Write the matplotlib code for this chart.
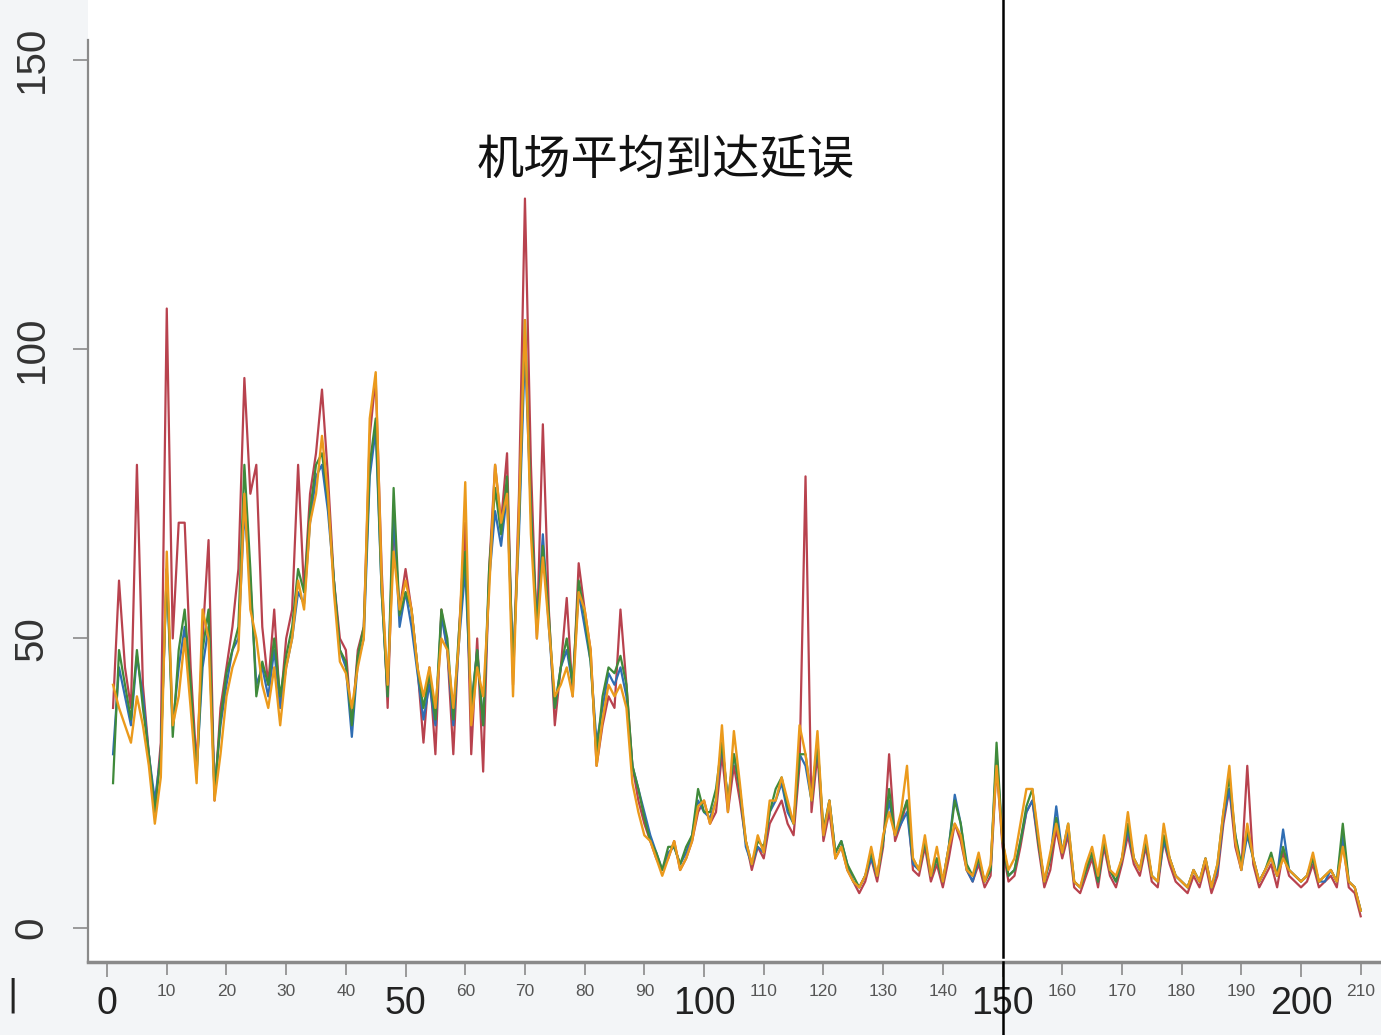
# Средняя задержка прибытия по аэропорту: 4 ряда по дням, отсечка на 150-й день.
import matplotlib
matplotlib.use("Agg")
import matplotlib.pyplot as plt
from matplotlib.ticker import FixedLocator

OUT_PNG = "out.png"

TITLE = "机场平均到达延误"
CUT_DAY = 150

days = list(range(1, 211))

red_vals = [
    38, 60, 45, 38, 80, 42, 30, 20, 32, 107,
    50, 70, 70, 45, 28, 50, 67, 22, 38, 45,
    52, 62, 95, 75, 80, 52, 42, 55, 38, 50,
    55, 80, 58, 75, 82, 93, 78, 60, 50, 48,
    35, 48, 52, 85, 95, 62, 38, 70, 55, 62,
    55, 45, 32, 45, 30, 55, 48, 30, 52, 70,
    30, 50, 27, 62, 80, 70, 82, 42, 75, 126,
    80, 50, 87, 55, 35, 45, 57, 40, 63, 55,
    48, 28, 35, 40, 38, 55, 42, 28, 22, 18,
    15, 12, 10, 12, 15, 10, 12, 15, 20, 22,
    18, 20, 30, 20, 28, 22, 15, 10, 14, 12,
    18, 20, 22, 18, 16, 28, 78, 20, 30, 15,
    20, 12, 14, 10, 8, 6, 8, 12, 8, 14,
    30, 15, 18, 22, 10, 9, 14, 8, 11, 7,
    12, 18, 15, 10, 8, 11, 7, 9, 28, 14,
    8, 9, 14, 20, 22, 14, 7, 10, 17, 12,
    16, 7, 6, 9, 12, 7, 14, 9, 7, 11,
    16, 11, 9, 14, 8, 7, 15, 11, 8, 7,
    6, 9, 7, 11, 6, 9, 18, 24, 14, 10,
    28, 11, 7, 9, 11, 7, 13, 9, 8, 7,
    8, 11, 7, 8, 9, 7, 15, 7, 6, 2,
]

blue_vals = [
    30, 45, 40, 35, 47, 40, 30, 22, 30, 62,
    35, 45, 52, 40, 27, 45, 52, 24, 35, 42,
    48, 50, 72, 60, 42, 45, 40, 48, 38, 45,
    50, 58, 56, 70, 78, 80, 72, 60, 48, 45,
    33, 46, 50, 78, 86, 58, 40, 72, 52, 58,
    52, 44, 36, 42, 35, 54, 48, 35, 50, 62,
    38, 48, 35, 60, 72, 66, 75, 45, 68, 100,
    72, 52, 68, 52, 38, 45, 48, 42, 58, 52,
    46, 32, 38, 44, 42, 45, 40, 28, 24, 20,
    16, 13, 10, 13, 14, 11, 13, 16, 22, 20,
    19, 22, 32, 22, 30, 24, 14, 11, 14, 13,
    20, 22, 25, 20, 18, 30, 28, 22, 32, 16,
    22, 13, 15, 11, 8, 7, 9, 12, 9, 15,
    22, 16, 18, 20, 11, 10, 15, 9, 12, 8,
    14, 23, 18, 10, 8, 12, 8, 10, 30, 15,
    9, 10, 15, 20, 22, 15, 8, 12, 21, 13,
    17, 8, 7, 10, 13, 8, 15, 10, 8, 12,
    17, 12, 10, 15, 9, 8, 15, 12, 9, 8,
    7, 10, 8, 12, 7, 10, 19, 24, 16, 10,
    16, 12, 8, 10, 12, 9, 17, 10, 9, 8,
    9, 12, 8, 8, 10, 8, 16, 8, 7, 3,
]

green_vals = [
    25, 48, 42, 36, 48, 38, 30, 20, 30, 62,
    33, 48, 55, 42, 26, 48, 55, 23, 36, 44,
    48, 52, 80, 62, 40, 46, 42, 50, 40, 47,
    52, 62, 58, 72, 80, 82, 74, 60, 48, 46,
    35, 47, 52, 80, 88, 58, 40, 76, 54, 58,
    55, 45, 38, 44, 36, 55, 50, 36, 52, 65,
    38, 48, 35, 62, 76, 68, 78, 44, 70, 105,
    72, 52, 66, 54, 38, 45, 50, 42, 60, 54,
    46, 30, 40, 45, 44, 47, 42, 28, 24, 19,
    15, 13, 10, 14, 14, 11, 14, 16, 24, 20,
    20, 24, 32, 22, 30, 24, 15, 11, 15, 14,
    20, 24, 26, 21, 18, 30, 30, 22, 32, 17,
    22, 13, 15, 11, 9, 7, 9, 13, 9, 15,
    24, 16, 19, 22, 12, 10, 15, 9, 12, 8,
    14, 22, 18, 11, 9, 12, 8, 10, 32, 15,
    9, 10, 15, 21, 24, 15, 8, 12, 19, 13,
    18, 8, 7, 10, 13, 8, 15, 10, 8, 12,
    18, 12, 10, 15, 9, 8, 16, 12, 9, 8,
    7, 10, 8, 12, 7, 11, 20, 26, 16, 11,
    17, 12, 8, 10, 13, 9, 14, 10, 9, 8,
    9, 12, 8, 9, 10, 8, 18, 8, 7, 3,
]

orange_vals = [
    42, 38, 35, 32, 40, 35, 28, 18, 26, 65,
    35, 40, 50, 38, 25, 55, 50, 22, 30, 40,
    45, 48, 75, 55, 50, 42, 38, 45, 35, 45,
    50, 60, 55, 70, 75, 85, 75, 58, 46, 44,
    38, 45, 50, 88, 96, 60, 42, 65, 55, 60,
    55, 45, 40, 45, 38, 50, 48, 38, 50, 77,
    35, 45, 40, 58, 80, 70, 75, 40, 72, 105,
    68, 50, 64, 52, 40, 42, 45, 40, 58, 55,
    48, 28, 36, 42, 40, 42, 38, 25, 20, 16,
    15, 12, 9, 12, 15, 10, 12, 15, 21, 22,
    18, 22, 35, 20, 34, 25, 15, 11, 16, 13,
    22, 22, 26, 22, 18, 35, 30, 22, 34, 16,
    22, 12, 14, 10, 8, 7, 9, 14, 9, 16,
    20, 16, 20, 28, 12, 10, 16, 9, 14, 8,
    14, 18, 16, 10, 9, 13, 8, 11, 28, 15,
    10, 12, 18, 24, 24, 16, 8, 13, 18, 13,
    18, 8, 7, 11, 14, 9, 16, 10, 9, 12,
    20, 12, 10, 16, 9, 8, 18, 12, 9, 8,
    7, 10, 8, 12, 7, 11, 20, 28, 15, 10,
    18, 12, 8, 10, 12, 9, 12, 10, 9, 8,
    9, 13, 8, 9, 10, 8, 14, 8, 7, 3,
]

major_x = [0, 50, 100, 150, 200]
minor_x = [10, 20, 30, 40, 60, 70, 80, 90, 110, 120, 130, 140,
           160, 170, 180, 190, 210]
y_ticks = [0, 50, 100, 150]


def main():
    fig = plt.figure(figsize=(13.81, 10.35), dpi=100, facecolor="#f3f5f7")
    # оси до самого верха, левая ось обрезается ниже через set_bounds
    ax = fig.add_axes([0.0637, 0.0705, 0.9363, 0.9295])
    ax.set_facecolor("white")

    # порядок отрисовки: красный снизу, оранжевый сверху
    ax.plot(days, red_vals, color="#b8424e", lw=1.6)
    ax.plot(days, blue_vals, color="#2f6db3", lw=1.6)
    ax.plot(days, green_vals, color="#3f8a3a", lw=1.6)
    ax.plot(days, orange_vals, color="#eb9a1c", lw=1.7)

    ax.set_xlim(-3.2, 213.4)
    ax.set_ylim(-5.9, 160.3)

    # вертикальная отсечка выходит за рамки осей
    ax.axvline(CUT_DAY, ymin=0.005, ymax=1.0, color="black", lw=1.8, zorder=10)
    ax.axvline(CUT_DAY, ymin=-0.09, ymax=0.0, color="black", lw=1.8,
               clip_on=False, zorder=10)

    ax.text(93.5, 132.5, TITLE, ha="center", va="center", fontsize=34,
            family=["Noto Sans CJK SC", "DejaVu Sans"], color="#111111",
            bbox=dict(facecolor="white", edgecolor="none", pad=4), zorder=8)

    for side in ["top", "right"]:
        ax.spines[side].set_visible(False)
    ax.spines["left"].set_bounds(-5.9, 153.4)
    ax.spines["left"].set_color("#8a8a8a")
    ax.spines["left"].set_linewidth(1.6)
    ax.spines["bottom"].set_color("#8a8a8a")
    ax.spines["bottom"].set_linewidth(2.5)

    ax.xaxis.set_major_locator(FixedLocator(major_x))
    ax.xaxis.set_minor_locator(FixedLocator(minor_x))
    ax.set_xticklabels([str(v) for v in major_x])
    ax.set_xticklabels([str(v) for v in minor_x], minor=True)
    ax.tick_params(axis="x", which="major", length=11, width=1.2,
                   color="#8a8a8a", pad=6, labelsize=27, labelcolor="#222222")
    ax.tick_params(axis="x", which="minor", length=9, width=1.2,
                   color="#8a8a8a", pad=7, labelsize=12.5, labelcolor="#555555")
    for lab in ax.get_xticklabels() + ax.get_xticklabels(minor=True):
        lab.set_family(["Liberation Sans", "DejaVu Sans"])
        lab.set_stretch("condensed")

    ax.set_yticks(y_ticks)
    ax.set_yticklabels([str(v) for v in y_ticks])
    ax.tick_params(axis="y", length=11, width=1.2, color="#8a8a8a",
                   pad=16, labelsize=29, labelrotation=90, labelcolor="#333333")
    for lab in ax.get_yticklabels():
        lab.set_family(["Liberation Sans", "DejaVu Sans"])
        lab.set_va("center")

    # следы обрезки слева на скриншоте
    fig.text(0.009, 0.038, "|", fontsize=26, color="#222222",
             ha="center", va="center")

    fig.savefig(OUT_PNG, dpi=100, facecolor=fig.get_facecolor())
    plt.close(fig)


if __name__ == "__main__":
    main()
